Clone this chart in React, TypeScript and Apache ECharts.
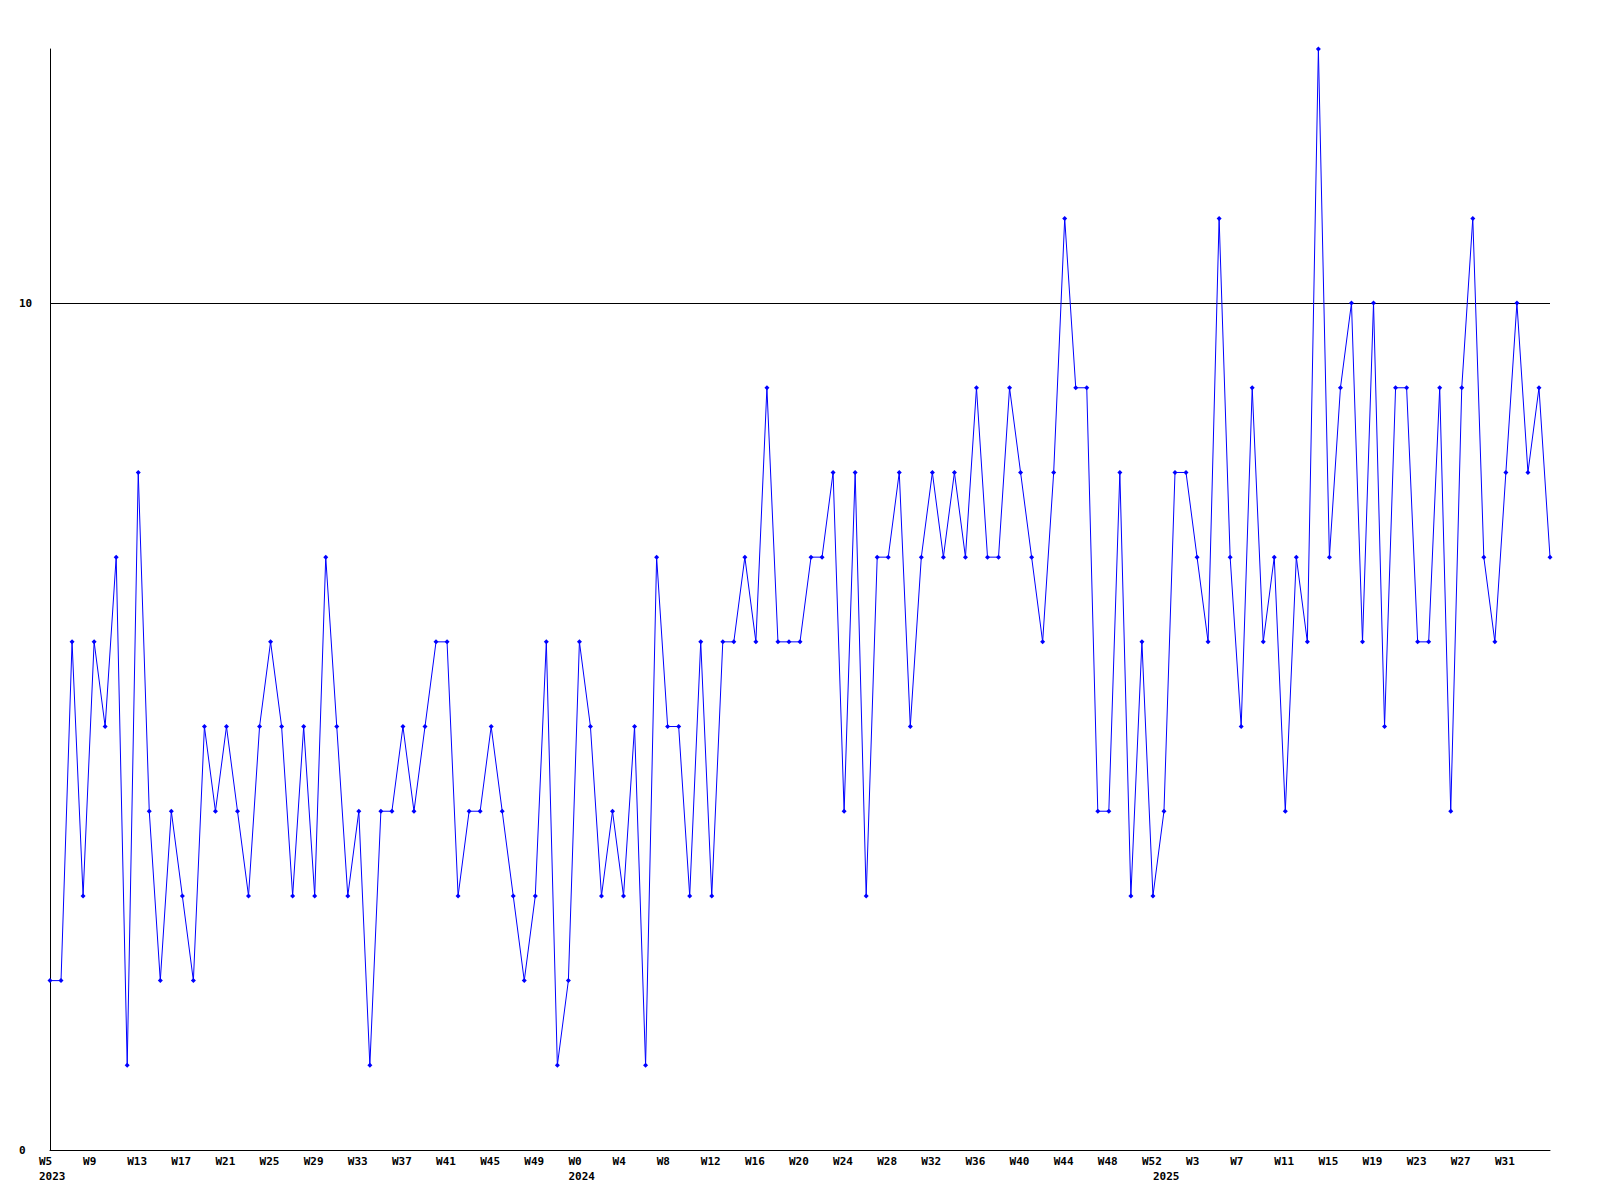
import React, { useEffect, useRef } from "react";
import * as echarts from "echarts";

// Year segments of ISO-like week numbering shown on the x axis
const yearSegments = [
  { year: 2023, first: 5, last: 52 },
  { year: 2024, first: 0, last: 52 },
  { year: 2025, first: 0, last: 35 },
];

const values = [
  2, 2, 6, 3, 6, 5, 7, 1, 8, 4,
  2, 4, 3, 2, 5, 4, 5, 4, 3, 5,
  6, 5, 3, 5, 3, 7, 5, 3, 4, 1,
  4, 4, 5, 4, 5, 6, 6, 3, 4, 4,
  5, 4, 3, 2, 3, 6, 1, 2, 6, 5,
  3, 4, 3, 5, 1, 7, 5, 5, 3, 6,
  3, 6, 6, 7, 6, 9, 6, 6, 6, 7,
  7, 8, 4, 8, 3, 7, 7, 8, 5, 7,
  8, 7, 8, 7, 9, 7, 7, 9, 8, 7,
  6, 8, 11, 9, 9, 4, 4, 8, 3, 6,
  3, 4, 8, 8, 7, 6, 11, 7, 5, 9,
  6, 7, 4, 7, 6, 13, 7, 9, 10, 6,
  10, 5, 9, 9, 6, 6, 9, 4, 9, 11,
  7, 6, 8, 10, 8, 9, 7,
];

const yTicks = [0, 10];
const gridLineValue = 10;

const categories: string[] = [];
const yearStartIdx: number[] = [];
yearSegments.forEach((s) => {
  yearStartIdx.push(categories.length);
  for (let w = s.first; w <= s.last; w++) categories.push(s.year + "|" + w);
});

const FONT = "DejaVu Sans Mono";

export default function App() {
  const ref = useRef<HTMLDivElement>(null);
  useEffect(() => {
    if (!ref.current) return;
    const chart = echarts.init(ref.current, null, { renderer: "svg" });
    const lastIdx = categories.length - 1;
    chart.setOption({
      animation: false,
      backgroundColor: "#ffffff",
      grid: { left: 50, right: 50, top: 49, bottom: 50, containLabel: false },
      xAxis: {
        type: "category",
        data: categories,
        boundaryGap: false,
        axisLine: { show: true, lineStyle: { color: "#000", width: 1 } },
        axisTick: { show: false },
        splitLine: { show: false },
        axisLabel: {
          interval: (idx: number) =>
            (idx % 4 === 0 && idx !== lastIdx) || yearStartIdx.includes(idx),
          align: "left",
          padding: [0, 0, 0, -11],
          margin: 4,
          fontFamily: FONT,
          fontWeight: "bold",
          fontSize: 11,
          lineHeight: 15,
          color: "#000",
          formatter: (val: string, idx: number) => {
            const [y, w] = val.split("|");
            const wk = idx % 4 === 0 ? "W" + w : " ";
            return yearStartIdx.includes(idx) ? wk + "\n" + y : wk;
          },
        },
      },
      yAxis: {
        type: "value",
        min: 0,
        max: 13,
        interval: 10,
        axisLine: { show: true, lineStyle: { color: "#000", width: 1 } },
        axisTick: { show: false },
        splitLine: { show: false },
        axisLabel: {
          align: "left",
          margin: 31,
          fontFamily: FONT,
          fontWeight: "bold",
          fontSize: 11,
          color: "#000",
          formatter: (v: number) => (yTicks.includes(v) ? String(v) : ""),
        },
      },
      series: [
        {
          type: "line",
          data: values,
          symbol: "diamond",
          symbolSize: 5,
          showAllSymbol: true,
          lineStyle: { color: "#0000ff", width: 1 },
          itemStyle: { color: "#0000ff" },
          z: 3,
          markLine: {
            silent: true,
            symbol: ["none", "none"],
            label: { show: false },
            lineStyle: { color: "#000", width: 1, type: "solid" },
            z: 1,
            data: [{ yAxis: gridLineValue }],
          },
        },
      ],
    });
    return () => chart.dispose();
  }, []);
  return (
    <div
      ref={ref}
      style={{ position: "fixed", left: 0, top: 0, width: 1600, height: 1200, background: "#fff" }}
    />
  );
}
